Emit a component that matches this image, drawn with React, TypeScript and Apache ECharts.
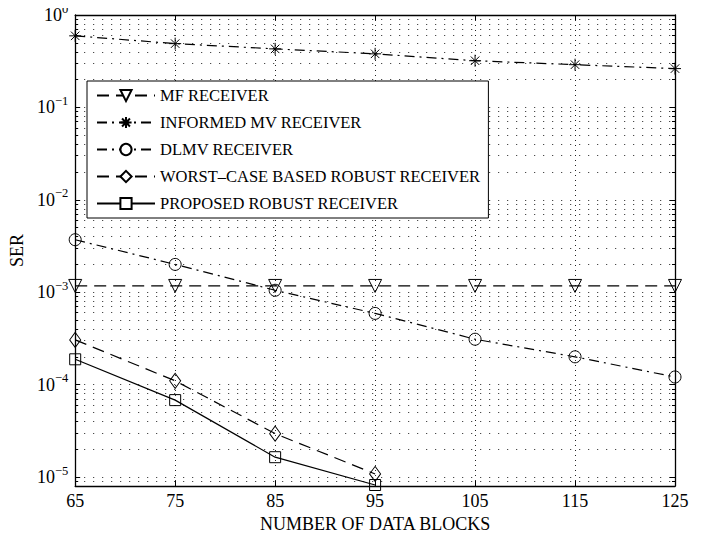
import React, { useEffect, useRef } from "react";
import * as echarts from "echarts";

const categories = ["65", "75", "85", "95", "105", "115", "125"];
const mfReceiver = [1.17e-3, 1.17e-3, 1.17e-3, 1.17e-3, 1.17e-3, 1.17e-3, 1.17e-3];
const informedMv = [0.595, 0.49, 0.43, 0.38, 0.32, 0.29, 0.263];
const dlmv = [3.7e-3, 2.0e-3, 1.05e-3, 5.9e-4, 3.1e-4, 2.0e-4, 1.21e-4];
const worstCase = [3.05e-4, 1.1e-4, 2.95e-5, 1.08e-5];
const proposed = [1.88e-4, 6.8e-5, 1.64e-5, 8.2e-6];

const Y_MIN = 8e-6;
const Y_MAX = 1;
const FONT = "'Liberation Serif', 'Times New Roman', serif";

const ASTERISK =
  "path://M0,-10 L0,10 M-10,0 L10,0 M-7.07,-7.07 L7.07,7.07 M-7.07,7.07 L7.07,-7.07";

const supLabel = (v: number) => {
  const e = Math.round(Math.log10(v));
  if (Math.abs(Math.log10(v) - e) > 1e-6) return "";
  return "{b|10}{s|" + (e === 0 ? "0" : "\u2212" + Math.abs(e)) + "}";
};

export default function App() {
  const ref = useRef<HTMLDivElement>(null);
  useEffect(() => {
    if (!ref.current) return;
    const chart = echarts.init(ref.current, undefined, { renderer: "svg" });
    const hGrid = { color: "#222", width: 1, type: [1, 8] as number[] };
    const vGrid = { color: "#222", width: 1, type: [1, 4] as number[] };
    const markerStyle = {
      color: "rgba(0,0,0,0)",
      borderColor: "#000",
      borderWidth: 1,
    };
    const mk = (
      name: string,
      data: number[],
      symbol: string,
      symbolSize: number | number[],
      dash: any,
      extra: any = {}
    ) => ({
      name,
      type: "line",
      data,
      symbol,
      symbolSize,
      showSymbol: true,
      clip: false,
      xAxisIndex: 0,
      yAxisIndex: 0,
      lineStyle: { color: "#000", width: 1.2, type: dash },
      itemStyle: markerStyle,
      emphasis: { disabled: true },
      ...extra,
    });
    chart.setOption({
      animation: false,
      backgroundColor: "#fff",
      textStyle: { fontFamily: FONT, color: "#000" },
      grid: { left: 73, top: 15, right: 36, bottom: 47, containLabel: false },
      legend: {
        show: true,
        left: 87,
        top: 81,
        orient: "vertical",
        backgroundColor: "#fff",
        borderColor: "#000",
        borderWidth: 1,
        borderRadius: 0,
        padding: [6, 8, 6, 9],
        itemWidth: 58,
        itemHeight: 14,
        itemGap: 10,
        itemStyle: { color: "#fff" },
        textStyle: { fontFamily: FONT, fontSize: 16.5, color: "#000" },
        data: [
          "MF RECEIVER",
          "INFORMED MV RECEIVER",
          "DLMV RECEIVER",
          "WORST\u2013CASE BASED ROBUST RECEIVER",
          "PROPOSED ROBUST RECEIVER",
        ],
        selectedMode: false,
      },
      xAxis: [
        {
          type: "category",
          data: categories,
          boundaryGap: false,
          name: "NUMBER OF DATA BLOCKS",
          nameLocation: "middle",
          nameGap: 29,
          nameTextStyle: { fontFamily: FONT, fontSize: 18, color: "#000" },
          axisLine: { show: true, lineStyle: { color: "#000", width: 1.3 } },
          axisTick: { show: true, inside: true, length: 5, lineStyle: { color: "#000" } },
          axisLabel: { fontFamily: FONT, fontSize: 18, color: "#000", margin: 6 },
          splitLine: { show: true, lineStyle: vGrid },
        },
        {
          type: "category",
          data: categories,
          boundaryGap: false,
          position: "top",
          axisLine: { show: true, lineStyle: { color: "#000", width: 1.3 } },
          axisTick: { show: true, inside: true, length: 5, lineStyle: { color: "#000" } },
          axisLabel: { show: false },
          splitLine: { show: false },
        },
      ],
      yAxis: [
        {
          type: "log",
          logBase: 10,
          min: Y_MIN,
          max: Y_MAX,
          name: "SER",
          nameLocation: "middle",
          nameGap: 45,
          nameTextStyle: { fontFamily: FONT, fontSize: 18, color: "#000" },
          axisLine: { show: true, lineStyle: { color: "#000", width: 1.3 } },
          axisTick: { show: true, inside: true, length: 5, lineStyle: { color: "#000" } },
          minorTick: { show: true, splitNumber: 9, length: 3, lineStyle: { color: "#000" } },
          axisLabel: {
            showMinLabel: false,
            margin: 7,
            formatter: supLabel,
            rich: {
              b: { fontFamily: FONT, fontSize: 18, color: "#000" },
              s: {
                fontFamily: FONT,
                fontSize: 12.5,
                color: "#000",
                verticalAlign: "bottom",
                padding: [0, 0, 13, 0],
              },
            },
          },
          splitLine: { show: true, lineStyle: hGrid },
          minorSplitLine: { show: true, lineStyle: hGrid },
        },
        {
          type: "log",
          logBase: 10,
          min: Y_MIN,
          max: Y_MAX,
          position: "right",
          axisLine: { show: true, lineStyle: { color: "#000", width: 1.3 } },
          axisTick: { show: true, inside: true, length: 5, lineStyle: { color: "#000" } },
          minorTick: { show: true, splitNumber: 9, length: 3, lineStyle: { color: "#000" } },
          axisLabel: { show: false },
          splitLine: { show: false },
        },
      ],
      series: [
        mk("MF RECEIVER", mfReceiver, "triangle", 13, [12, 7], { symbolRotate: 180 }),
        mk("INFORMED MV RECEIVER", informedMv, ASTERISK, 12, [10, 5, 2, 5]),
        mk("DLMV RECEIVER", dlmv, "circle", 12, [10, 5, 2, 5]),
        mk("WORST\u2013CASE BASED ROBUST RECEIVER", worstCase, "diamond", [11, 15], [12, 7]),
        mk("PROPOSED ROBUST RECEIVER", proposed, "rect", 11, "solid"),
      ],
    });
    return () => chart.dispose();
  }, []);
  return <div ref={ref} style={{ width: 711, height: 538, margin: -8 }} />;
}
